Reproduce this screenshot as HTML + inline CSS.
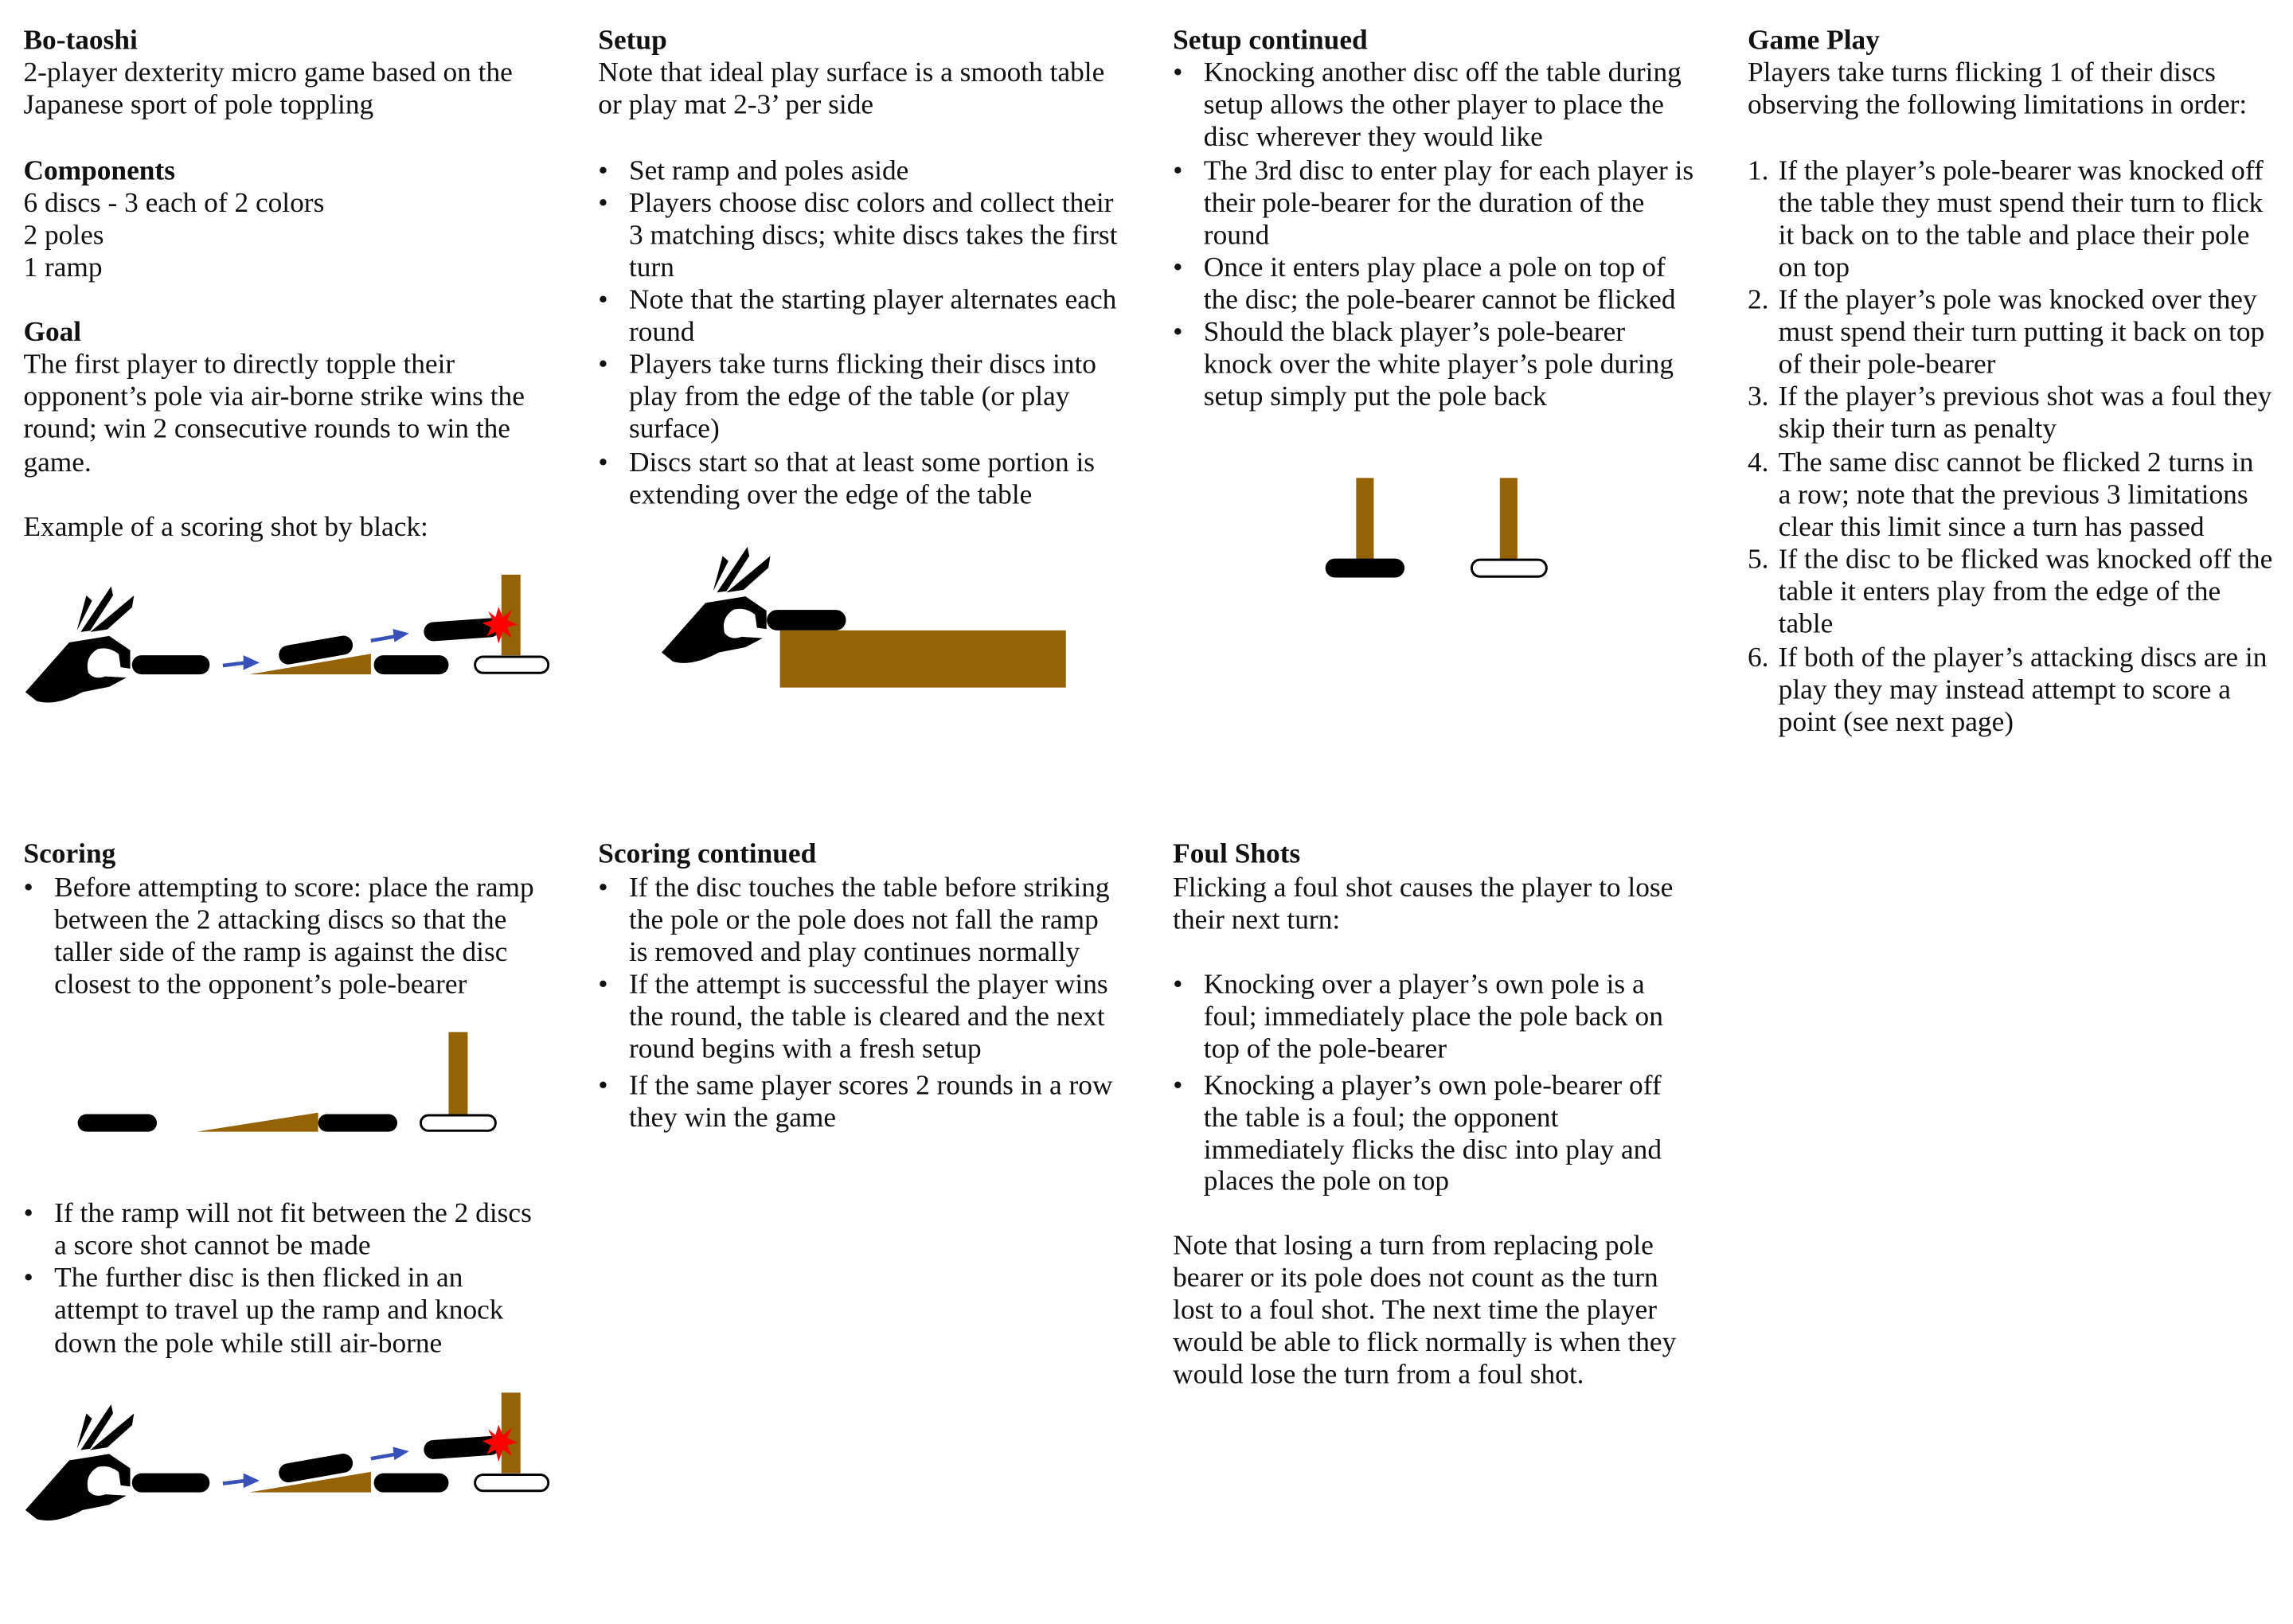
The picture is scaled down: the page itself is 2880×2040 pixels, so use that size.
<!DOCTYPE html>
<html><head><meta charset="utf-8"><style>
html,body{margin:0;padding:0;background:#fff;}
svg{display:block;}
text{font-family:"Liberation Serif",serif;font-size:19.2px;fill:#111;}
.b{font-weight:bold;}
</style></head><body>
<svg id="page" width="2880" height="2040" viewBox="0 0 1564 1107.8" xmlns="http://www.w3.org/2000/svg">
<defs>
<g id="hand">
<g transform="translate(-0.9,371.5) scale(0.26,0.178)">
<path d="M70,565 L185,375 L290,350 L345,405 L345,475 L320,470 L315,420 Q290,390 260,400 Q225,430 235,490 Q250,520 280,505 L335,510 L290,545 L220,565 Q150,620 100,600 Z" fill="#000"/>
<path d="M205,330 L230,195 L245,215 Z" fill="#000"/>
<path d="M215,335 L295,160 L300,195 L240,330 Z" fill="#000"/>
<path d="M240,335 L355,195 L350,240 L285,325 Z" fill="#000"/>
</g>
</g>
<g id="shot">
<use href="#hand"/>
<rect x="90" y="447" width="53" height="13" rx="6.5" fill="#000"/>
<line x1="152" y1="454" x2="168" y2="452" stroke="#3850b8" stroke-width="2.5"/>
<polygon points="166,447 177,452 166,457" fill="#3850b8"/>
<polygon points="170,460 253,446 253,460" fill="#936306"/>
<rect x="190" y="437" width="51" height="13" rx="6.5" fill="#000" transform="rotate(-10 215 444)"/>
<rect x="255" y="447" width="51" height="13" rx="6.5" fill="#000"/>
<line x1="253" y1="437" x2="270" y2="434" stroke="#3850b8" stroke-width="2.5"/>
<polygon points="268,429 279,432 269,438" fill="#3850b8"/>
<rect x="342" y="392" width="13" height="55" fill="#936306"/>
<rect x="289" y="423" width="52" height="13" rx="6.5" fill="#000" transform="rotate(-4 315 429)"/>
<polygon points="340,414 343,421 349,416 346,423 353,426 346,428 349,435 343,431 340,439 338,431 332,434 335,428 329,425 336,423 333,417 338,421" fill="#f00"/>
<rect x="324" y="448" width="50" height="11" rx="5.5" fill="#fff" stroke="#000" stroke-width="1.6"/>
</g>
</defs>
<g id="texts"></g>
<g><use href="#shot"/></g>
<g>
<use href="#hand" transform="translate(434,-27)"/>
<rect x="523" y="416" width="54" height="14" rx="7" fill="#000"/>
<rect x="532" y="430" width="195" height="39" fill="#936306"/>
</g>
<g>
<rect x="925" y="326" width="12" height="56" fill="#936306"/>
<rect x="904" y="381" width="54" height="13" rx="6.5" fill="#000"/>
<rect x="1023" y="326" width="12" height="56" fill="#936306"/>
<rect x="1003.8" y="381.8" width="51" height="11.5" rx="5.7" fill="#fff" stroke="#000" stroke-width="1.6"/>
</g>
<g>
<rect x="53" y="760" width="54" height="12" rx="6" fill="#000"/>
<polygon points="134,772 217,759 217,772" fill="#936306"/>
<rect x="217" y="760" width="54" height="12" rx="6" fill="#000"/>
<rect x="306" y="704" width="13" height="56" fill="#936306"/>
<rect x="287" y="760.8" width="51" height="10.5" rx="5.2" fill="#fff" stroke="#000" stroke-width="1.6"/>
</g>
<g><use href="#shot" transform="translate(0,558)"/></g>
</svg>
<script>
const blocks = [
 [16, [[28,"B","Bo-taoshi"],[50,"","2-player dexterity micro game based on the"],[72,"","Japanese sport of pole toppling"],
  [117,"B","Components"],[139,"","6 discs - 3 each of 2 colors"],[161,"","2 poles"],[183,"","1 ramp"],
  [227,"B","Goal"],[249,"","The first player to directly topple their"],[271,"","opponent’s pole via air-borne strike wins the"],[293,"","round; win 2 consecutive rounds to win the"],[316,"","game."],
  [360,"","Example of a scoring shot by black:"]]],
 [408, [[28,"B","Setup"],[50,"","Note that ideal play surface is a smooth table"],[72,"","or play mat 2-3’ per side"],
  [117,"•","Set ramp and poles aside"],[139,"•","Players choose disc colors and collect their"],[161,"-","3 matching discs; white discs takes the first"],[183,"-","turn"],
  [205,"•","Note that the starting player alternates each"],[227,"-","round"],[249,"•","Players take turns flicking their discs into"],[271,"-","play from the edge of the table (or play"],[293,"-","surface)"],
  [316,"•","Discs start so that at least some portion is"],[338,"-","extending over the edge of the table"]]],
 [800, [[28,"B","Setup continued"],[50,"•","Knocking another disc off the table during"],[72,"-","setup allows the other player to place the"],[94,"-","disc wherever they would like"],
  [117,"•","The 3rd disc to enter play for each player is"],[139,"-","their pole-bearer for the duration of the"],[161,"-","round"],
  [183,"•","Once it enters play place a pole on top of"],[205,"-","the disc; the pole-bearer cannot be flicked"],
  [227,"•","Should the black player’s pole-bearer"],[249,"-","knock over the white player’s pole during"],[271,"-","setup simply put the pole back"]]],
 [1192, [[28,"B","Game Play"],[50,"","Players take turns flicking 1 of their discs"],[72,"","observing the following limitations in order:"],
  [117,"1.","If the player’s pole-bearer was knocked off"],[139,"-","the table they must spend their turn to flick"],[161,"-","it back on to the table and place their pole"],[183,"-","on top"],
  [205,"2.","If the player’s pole was knocked over they"],[227,"-","must spend their turn putting it back on top"],[249,"-","of their pole-bearer"],
  [271,"3.","If the player’s previous shot was a foul they"],[293,"-","skip their turn as penalty"],
  [316,"4.","The same disc cannot be flicked 2 turns in"],[338,"-","a row; note that the previous 3 limitations"],[360,"-","clear this limit since a turn has passed"],
  [382,"5.","If the disc to be flicked was knocked off the"],[404,"-","table it enters play from the edge of the"],[426,"-","table"],
  [449,"6.","If both of the player’s attacking discs are in"],[471,"-","play they may instead attempt to score a"],[493,"-","point (see next page)"]]],
 [16, [[583,"B","Scoring"],[606,"•","Before attempting to score: place the ramp"],[628,"-","between the 2 attacking discs so that the"],[650,"-","taller side of the ramp is against the disc"],[672,"-","closest to the opponent’s pole-bearer"],
  [828,"•","If the ramp will not fit between the 2 discs"],[850,"-","a score shot cannot be made"],[872,"•","The further disc is then flicked in an"],[894,"-","attempt to travel up the ramp and knock"],[917,"-","down the pole while still air-borne"]]],
 [408, [[583,"B","Scoring continued"],[606,"•","If the disc touches the table before striking"],[628,"-","the pole or the pole does not fall the ramp"],[650,"-","is removed and play continues normally"],
  [672,"•","If the attempt is successful the player wins"],[694,"-","the round, the table is cleared and the next"],[716,"-","round begins with a fresh setup"],
  [741,"•","If the same player scores 2 rounds in a row"],[763,"-","they win the game"]]],
 [800, [[583,"B","Foul Shots"],[606,"","Flicking a foul shot causes the player to lose"],[628,"","their next turn:"],
  [672,"•","Knocking over a player’s own pole is a"],[694,"-","foul; immediately place the pole back on"],[716,"-","top of the pole-bearer"],
  [741,"•","Knocking a player’s own pole-bearer off"],[763,"-","the table is a foul; the opponent"],[785,"-","immediately flicks the disc into play and"],[806,"-","places the pole on top"],
  [850,"","Note that losing a turn from replacing pole"],[872,"","bearer or its pole does not count as the turn"],[894,"","lost to a foul shot. The next time the player"],[916,"","would be able to flick normally is when they"],[938,"","would lose the turn from a foul shot."]]]
];
const NS = "http://www.w3.org/2000/svg";
const root = document.getElementById("texts");
function mk(x, y, s, cls) {
  const t = document.createElementNS(NS, "text");
  t.setAttribute("x", x);
  t.setAttribute("y", y);
  if (cls) t.setAttribute("class", cls);
  t.textContent = s;
  
  
  root.appendChild(t);
  return t;
}
blocks.forEach(([x, lines]) => {
  lines.forEach(([yc, kind, s]) => {
    const y = yc + 5.5;
    if (kind === "B") {
      const t = mk(x, y, s, "b");
      
    } else if (kind === "") {
      mk(x, y, s);
    } else if (kind === "-") {
      mk(x + 21, y, s);
    } else {
      const m = mk(x, y, kind);
      
      mk(x + 21, y, s);
    }
  });
});
</script>
</body></html>
